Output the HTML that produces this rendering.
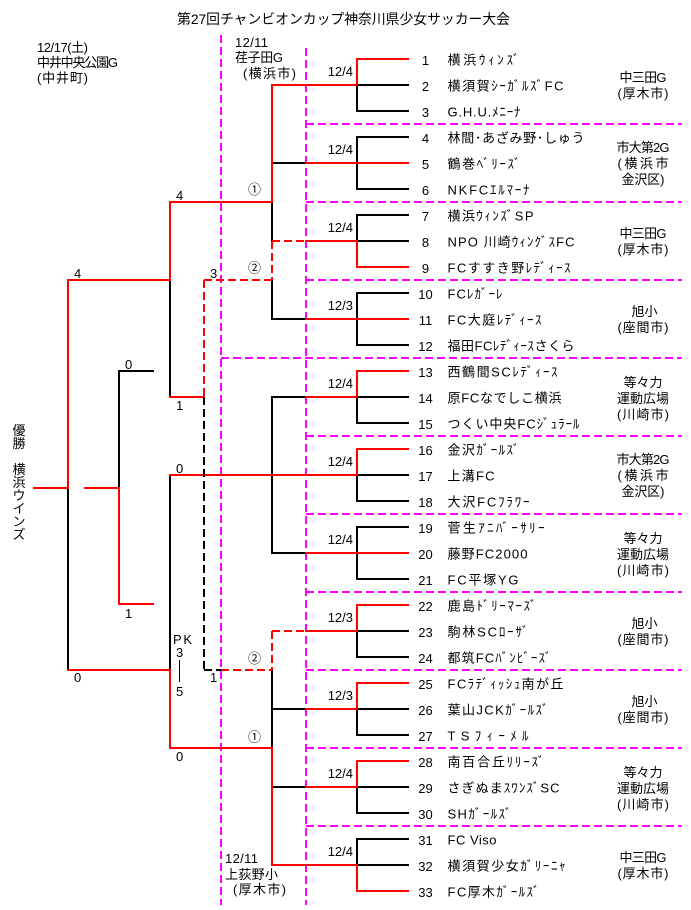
<!DOCTYPE html>
<html><head><meta charset="utf-8">
<style>
html,body{margin:0;padding:0;background:#fff;width:691px;height:910px;overflow:hidden}
svg{display:block}
text{font-family:"Liberation Sans","Noto Sans CJK JP",sans-serif;font-size:13px;fill:#000}
.k{stroke:#000;stroke-width:2;fill:none;stroke-linecap:square}
.r{stroke:#f00;stroke-width:2;fill:none;stroke-linecap:square}
.kd{stroke:#000;stroke-width:2;fill:none;stroke-dasharray:8 4}
.rd{stroke:#f00;stroke-width:2;fill:none;stroke-dasharray:8 4}
.p{stroke:#f0f;stroke-width:2;fill:none;stroke-dasharray:8 4}
.n{text-anchor:middle}
.v{text-anchor:middle}
.e{text-anchor:end}
</style></head><body>
<svg width="691" height="910" viewBox="0 0 691 910" xmlns="http://www.w3.org/2000/svg">
<rect width="691" height="910" fill="#fff"/>

<!-- pink dashed -->
<path class="p" d="M221 35V905 M306 48V905"/>
<path class="p" d="M306 124H682 M306 202H682 M306 280H682 M221 358H682 M306 436H682 M306 514H682 M306 592H682 M306 670H682 M306 748H682 M306 826H682"/>

<!-- black solid -->
<path class="k" d="
M357 85V111 M357 85H408 M357 111H408
M357 137V189 M357 137H408 M357 189H408
M357 215V241 M357 215H408 M357 241H408
M357 293V345 M357 293H408 M357 345H408
M357 397V423 M357 397H408 M357 423H408
M357 475V501 M357 475H408 M357 501H408
M357 527V579 M357 527H408 M357 579H408
M357 631V657 M357 631H408 M357 657H408
M357 709V735 M357 709H408 M357 735H408
M357 787V813 M357 787H408 M357 813H408
M357 839V865 M357 839H408 M357 865H408
M272 163H306 M272 319H306 M272 397H306 M272 553H306 M272 709H306 M272 787H306
M272 202V241 M272 280V319 M272 397V553 M272 670V748
M170 280V397 M170 475V670
M68 488V670
M119 371V488 M119 371H153
"/>

<!-- red solid -->
<path class="r" d="
M357 59V85 M357 59H408
M357 163H408
M357 241V267 M357 267H408
M357 319H408
M357 371V397 M357 371H408
M357 449V475 M357 449H408
M357 553H408
M357 605V631 M357 605H408
M357 683V709 M357 683H408
M357 761V787 M357 761H408
M357 865V891 M357 891H408
M272 85H357 M306 163H357 M306 241H357 M306 319H357 M306 397H357 M170 475H357 M306 553H357 M306 631H357 M306 709H357 M306 787H357 M272 865H357
M272 85V202 M272 748V865
M170 202H272 M170 202V280 M68 280H170 M170 397H204
M68 280V488 M34 488H68
M68 670H170 M170 670V748 M170 748H272
M85 488H119 M119 488V604 M119 604H153
"/>

<!-- dashed -->
<path class="rd" d="M272 241H306 M272 241V280 M204 280H272 M204 280V397 M272 631H306 M272 631V670 M221 670H272"/>
<path class="kd" d="M204 397V670 M204 670H221"/>

<!-- PK bar -->
<path d="M179.5 660V682" stroke="#000" stroke-width="1"/>

<!-- title & headers -->
<text x="177" y="24" style="font-size:14px" textLength="333" lengthAdjust="spacingAndGlyphs">第27回チャンビオンカップ神奈川県少女サッカー大会</text>
<text x="37" y="52" textLength="51">12/17(土)</text>
<text x="37" y="67" textLength="81">中井中央公園G</text>
<text x="37" y="82.5" textLength="51">(中井町)</text>
<text x="235" y="47" textLength="33">12/11</text>
<text x="235" y="62" textLength="48">荏子田G</text>
<text x="243" y="78" textLength="53">(横浜市)</text>
<text x="225" y="863" textLength="33">12/11</text>
<text x="225" y="879" textLength="53">上荻野小</text>
<text x="233" y="894" textLength="53">(厚木市)</text>

<!-- vertical champion text -->
<text class="v" x="19" y="435">優</text>
<text class="v" x="19" y="448">勝</text>
<text class="v" x="19" y="474">横</text>
<text class="v" x="19" y="487">浜</text>
<text class="v" x="19" y="500">ウ</text>
<text class="v" x="19" y="513">イ</text>
<text class="v" x="19" y="526">ン</text>
<text class="v" x="19" y="539">ズ</text>

<!-- scores -->
<text x="176" y="200">4</text>
<text x="74" y="278">4</text>
<text x="210" y="278">3</text>
<text x="125" y="369">0</text>
<text x="176" y="410">1</text>
<text x="176" y="473">0</text>
<text x="125" y="618">1</text>
<text x="173" y="644" textLength="19">PK</text>
<text x="176" y="657">3</text>
<text x="176" y="696">5</text>
<text x="74" y="682">0</text>
<text x="210" y="682">1</text>
<text x="176" y="761">0</text>
<text class="n" x="254.5" y="194">①</text>
<text class="n" x="254.5" y="272.5">②</text>
<text class="n" x="254.5" y="663">②</text>
<text class="n" x="254.5" y="741.5">①</text>

<!-- dates -->
<text class="e" x="353" y="76">12/4</text>
<text class="e" x="353" y="154">12/4</text>
<text class="e" x="353" y="232">12/4</text>
<text class="e" x="353" y="310">12/3</text>
<text class="e" x="353" y="388">12/4</text>
<text class="e" x="353" y="466">12/4</text>
<text class="e" x="353" y="544">12/4</text>
<text class="e" x="353" y="622">12/3</text>
<text class="e" x="353" y="700">12/3</text>
<text class="e" x="353" y="778">12/4</text>
<text class="e" x="353" y="856">12/4</text>

<!-- numbers -->
<g class="n">
<text x="425.5" y="65">1</text><text x="425.5" y="91">2</text><text x="425.5" y="117">3</text>
<text x="425.5" y="143">4</text><text x="425.5" y="169">5</text><text x="425.5" y="195">6</text>
<text x="425.5" y="221">7</text><text x="425.5" y="247">8</text><text x="425.5" y="273">9</text>
<text x="425.5" y="299">10</text><text x="425.5" y="325">11</text><text x="425.5" y="351">12</text>
<text x="425.5" y="377">13</text><text x="425.5" y="403">14</text><text x="425.5" y="429">15</text>
<text x="425.5" y="455">16</text><text x="425.5" y="481">17</text><text x="425.5" y="507">18</text>
<text x="425.5" y="533">19</text><text x="425.5" y="559">20</text><text x="425.5" y="585">21</text>
<text x="425.5" y="611">22</text><text x="425.5" y="637">23</text><text x="425.5" y="663">24</text>
<text x="425.5" y="689">25</text><text x="425.5" y="715">26</text><text x="425.5" y="741">27</text>
<text x="425.5" y="767">28</text><text x="425.5" y="793">29</text><text x="425.5" y="819">30</text>
<text x="425.5" y="845">31</text><text x="425.5" y="871">32</text><text x="425.5" y="897">33</text>
</g>

<!-- team names -->
<text x="447.5" y="64.5" textLength="72">横浜ｳｨﾝｽﾞ</text>
<text x="447.5" y="90.5" textLength="116">横須賀ｼｰｶﾞﾙｽﾞFC</text>
<text x="447.5" y="116.5" textLength="73">G.H.U.ﾒﾆｰﾅ</text>
<text x="447.5" y="142.5" textLength="137">林間･あざみ野･しゅう</text>
<text x="447.5" y="168.5" textLength="73">鶴巻ﾍﾞﾘｰｽﾞ</text>
<text x="447.5" y="194.5" textLength="82">NKFCｴﾙﾏｰﾅ</text>
<text x="447.5" y="220.5" textLength="86">横浜ｳｨﾝｽﾞSP</text>
<text x="447.5" y="246.5" textLength="127">NPO 川崎ｳｨﾝｸﾞｽFC</text>
<text x="447.5" y="272.5" textLength="123">FCすすき野ﾚﾃﾞｨｰｽ</text>
<text x="447.5" y="298.5" textLength="55">FCﾚｶﾞｰﾚ</text>
<text x="447.5" y="324.5" textLength="94">FC大庭ﾚﾃﾞｨｰｽ</text>
<text x="447.5" y="350.5" textLength="127">福田FCﾚﾃﾞｨｰｽさくら</text>
<text x="447.5" y="376.5" textLength="110">西鶴間SCﾚﾃﾞｨｰｽ</text>
<text x="447.5" y="402.5" textLength="114">原FCなでしこ横浜</text>
<text x="447.5" y="428.5" textLength="132">つくい中央FCｼﾞｭﾗｰﾙ</text>
<text x="447.5" y="454.5" textLength="72">金沢ｶﾞｰﾙｽﾞ</text>
<text x="447.5" y="480.5" textLength="47">上溝FC</text>
<text x="447.5" y="506.5" textLength="82">大沢FCﾌﾗﾜｰ</text>
<text x="447.5" y="532.5" textLength="97">菅生ｱﾆﾊﾞｰｻﾘｰ</text>
<text x="447.5" y="558.5" textLength="80">藤野FC2000</text>
<text x="447.5" y="584.5" textLength="71">FC平塚YG</text>
<text x="447.5" y="610.5" textLength="89">鹿島ﾄﾞﾘｰﾏｰｽﾞ</text>
<text x="447.5" y="636.5" textLength="81">駒林SCﾛｰｻﾞ</text>
<text x="447.5" y="662.5" textLength="104">都筑FCﾊﾞﾝﾋﾞｰｽﾞ</text>
<text x="447.5" y="688.5" textLength="116">FCﾗﾃﾞｨｯｼｭ南が丘</text>
<text x="447.5" y="714.5" textLength="101">葉山JCKｶﾞｰﾙｽﾞ</text>
<text x="447.5" y="740.5" textLength="81">TSﾌｨｰﾒﾙ</text>
<text x="447.5" y="766.5" textLength="97">南百合丘ﾘﾘｰｽﾞ</text>
<text x="447.5" y="792.5" textLength="112">さぎぬまｽﾜﾝｽﾞSC</text>
<text x="447.5" y="818.5" textLength="64">SHｶﾞｰﾙｽﾞ</text>
<text x="447.5" y="844.5" textLength="49">FC Viso</text>
<text x="447.5" y="870.5" textLength="118">横須賀少女ｶﾞﾘｰﾆｬ</text>
<text x="447.5" y="896.5" textLength="92">FC厚木ｶﾞｰﾙｽﾞ</text>

<!-- venues -->
<g class="n">
<text x="643" y="82" textLength="47">中三田G</text>
<text x="643" y="98" textLength="51">(厚木市)</text>

<text x="643" y="152" textLength="53">市大第2G</text>
<text x="643" y="168" textLength="51">(横浜市</text>
<text x="643" y="184" textLength="43">金沢区)</text>

<text x="643" y="238" textLength="47">中三田G</text>
<text x="643" y="254" textLength="51">(厚木市)</text>

<text x="644.5" y="316" textLength="26">旭小</text>
<text x="643" y="332" textLength="51">(座間市)</text>

<text x="643" y="387" textLength="39">等々力</text>
<text x="643" y="403" textLength="52">運動広場</text>
<text x="643" y="419" textLength="52">(川崎市)</text>

<text x="643" y="464" textLength="53">市大第2G</text>
<text x="643" y="480" textLength="51">(横浜市</text>
<text x="643" y="496" textLength="43">金沢区)</text>

<text x="643" y="543" textLength="39">等々力</text>
<text x="643" y="559" textLength="52">運動広場</text>
<text x="643" y="575" textLength="52">(川崎市)</text>

<text x="644.5" y="628" textLength="26">旭小</text>
<text x="643" y="644" textLength="51">(座間市)</text>

<text x="644.5" y="706" textLength="26">旭小</text>
<text x="643" y="722" textLength="51">(座間市)</text>

<text x="643" y="777" textLength="39">等々力</text>
<text x="643" y="793" textLength="52">運動広場</text>
<text x="643" y="809" textLength="52">(川崎市)</text>

<text x="643" y="862" textLength="47">中三田G</text>
<text x="643" y="878" textLength="51">(厚木市)</text>
</g>
</svg>
</body></html>
